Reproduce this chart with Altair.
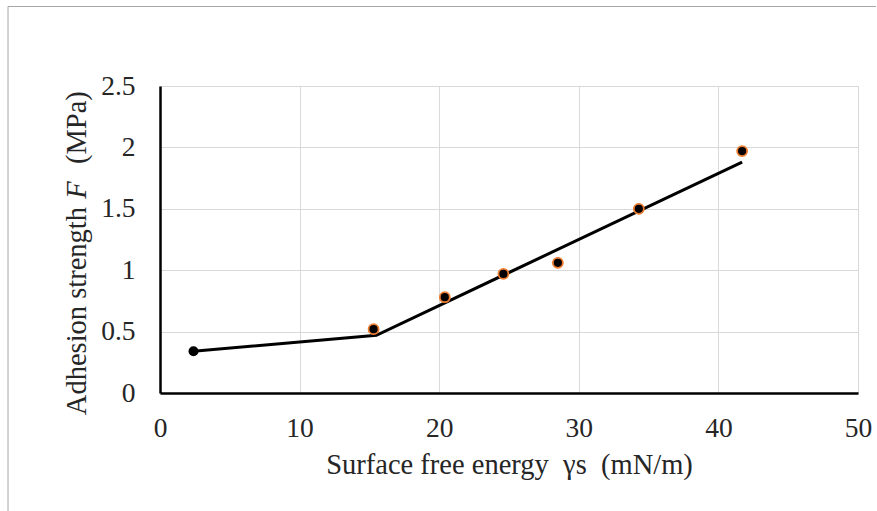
import altair as alt
import pandas as pd

# Measured points (surface free energy, adhesion strength)
pt_x = [15.3, 20.4, 24.6, 28.5, 34.3, 41.7]
pt_y = [0.52, 0.78, 0.97, 1.06, 1.50, 1.97]

# Bilinear fit line
line_x = [2.4, 15.5, 41.7]
line_y = [0.34, 0.47, 1.88]

# first (unoutlined) marker
start_x = [2.4]
start_y = [0.34]

x_ticks = [0, 10, 20, 30, 40, 50]
y_ticks = [0, 0.5, 1, 1.5, 2, 2.5]

NB = "\u00a0"
x_title = f"Surface free energy{NB}{NB}γs{NB}{NB}(mN/m)"
y_title_parts = ["Adhesion strength", "F", "(MPa)"]

pts = pd.DataFrame({"x": pt_x, "y": pt_y})
ln = pd.DataFrame({"x": line_x, "y": line_y, "o": list(range(len(line_x)))})
st = pd.DataFrame({"x": start_x, "y": start_y})

FONT = "Liberation Serif"
FS = 27.5
TFS = 28.5
TXT = "#262626"

xs = alt.Scale(domain=[0, 50], nice=False, zero=False)
ys = alt.Scale(domain=[0, 2.5], nice=False, zero=False)

xax = alt.Axis(values=x_ticks, title=x_title, grid=True, format="~g",
               gridColor="#d9d9d9", gridWidth=1, domainColor="black", domainWidth=2.5,
               ticks=False, labelPadding=21, labelFontSize=FS, labelFont=FONT,
               labelColor=TXT, titleFont=FONT, titleFontSize=TFS,
               titleFontWeight="normal", titleColor=TXT, titlePadding=9,
               labelFlush=False)
yax = alt.Axis(values=y_ticks, title=None, grid=True, format="~g",
               gridColor="#d9d9d9", gridWidth=1, domainColor="black", domainWidth=2.5,
               ticks=False, labelPadding=25, labelFontSize=FS, labelFont=FONT,
               labelColor=TXT, labelFlush=False)

line = alt.Chart(ln).mark_line(color="black", strokeWidth=3).encode(
    x=alt.X("x:Q", scale=xs, axis=xax),
    y=alt.Y("y:Q", scale=ys, axis=yax),
    order="o:O",
)
start = alt.Chart(st).mark_point(filled=True, color="black", size=100, opacity=1).encode(
    x=alt.X("x:Q", scale=xs), y=alt.Y("y:Q", scale=ys)
)
points = alt.Chart(pts).mark_point(filled=True, fill="black", stroke="#ED7D31",
                                   strokeWidth=1.8, size=100, opacity=1,
                                   fillOpacity=1, strokeOpacity=1).encode(
    x=alt.X("x:Q", scale=xs), y=alt.Y("y:Q", scale=ys)
)

# y-axis title with italic F (rotated text pieces)
yt1 = alt.Chart(st).mark_text(angle=270, align="right", baseline="alphabetic",
                              font=FONT, fontSize=TFS, color=TXT).encode(
    x=alt.value(-74), y=alt.value(121), text=alt.value(y_title_parts[0]))
yt2 = alt.Chart(st).mark_text(angle=270, align="center", baseline="alphabetic",
                              font=FONT, fontSize=TFS, fontStyle="italic", color=TXT).encode(
    x=alt.value(-74), y=alt.value(104), text=alt.value(y_title_parts[1]))
yt3 = alt.Chart(st).mark_text(angle=270, align="left", baseline="alphabetic",
                              font=FONT, fontSize=TFS, color=TXT).encode(
    x=alt.value(-74), y=alt.value(78), text=alt.value(y_title_parts[2]))

border_top = alt.Chart(st).mark_rule(color="#a6a6a6", strokeWidth=1).encode(
    x=alt.value(-152), x2=alt.value(716), y=alt.value(-79.5)
)
border_left = alt.Chart(st).mark_rule(color="#a6a6a6", strokeWidth=1).encode(
    x=alt.value(-152), y=alt.value(-79.5), y2=alt.value(430)
)

chart = alt.layer(border_top, border_left, line, start, points, yt1, yt2, yt3).properties(
    width=698, height=307,
    autosize=alt.AutoSizeParams(type="none"),
    padding={"left": 160, "top": 86, "right": 19, "bottom": 118},
).configure_view(stroke=None).configure(background="white")

chart.save("out.html", embed_options={"renderer": "svg", "actions": False})
